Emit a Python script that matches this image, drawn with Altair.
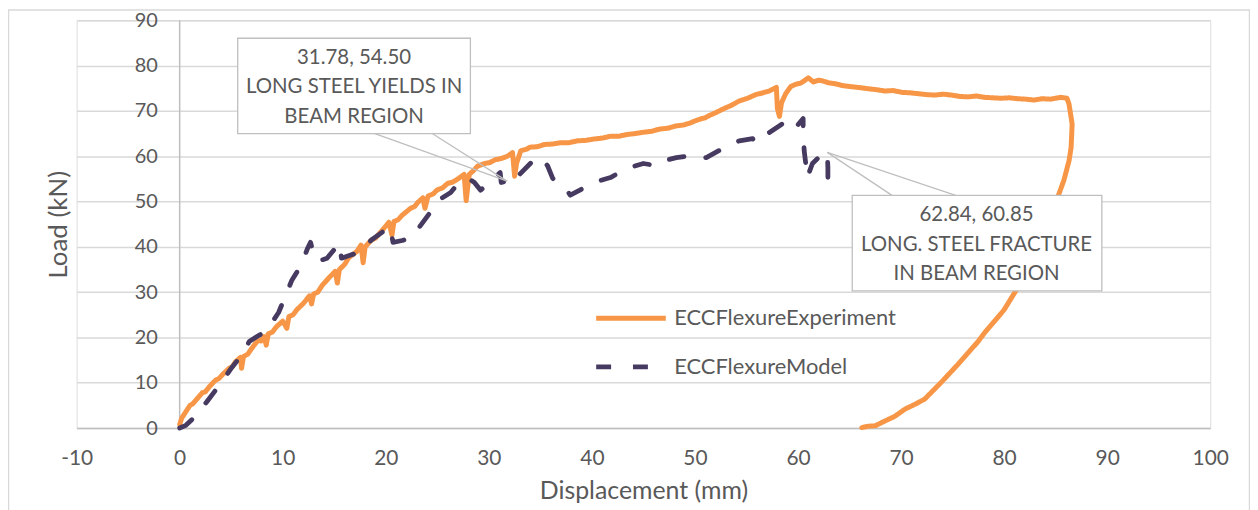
import altair as alt
import pandas as pd

# ---------------- data ----------------
series_names = ["ECCFlexureExperiment", "ECCFlexureModel"]

exp_x = [0.0, 0.2, 0.6, 1.0, 1.3, 1.6, 2.2, 2.5, 2.9, 3.5, 3.8, 4.2, 4.8, 5.1, 5.4, 5.9, 6.0, 6.2, 6.6, 7.0,
         7.6, 7.9, 8.2, 8.4, 8.6, 9.0, 9.4, 10.0, 10.4, 10.6, 11.0, 11.4, 12.0, 12.6, 12.8, 13.0, 13.4,
         13.8, 14.5, 15.1, 15.3, 15.5, 16.0, 16.4, 17.2, 17.6, 17.8, 18.0, 18.6, 19.0, 19.4, 20.3, 20.6,
         20.8, 21.2, 21.6, 22.4, 22.8, 23.1, 23.6, 23.8, 24.1, 24.6, 25.0, 25.5, 26.0, 26.5, 27.0, 27.6,
         27.8, 28.1, 28.5, 28.9, 29.6, 30.1, 30.6, 31.2, 31.8, 32.3, 32.5, 32.7, 33.1, 33.6, 34.0, 34.7,
         35.4, 36.2, 37.0, 37.8, 38.6, 39.4, 40.2, 41.0, 41.8, 42.6, 43.4, 44.2, 45.0, 45.8, 46.6, 47.4,
         48.2, 48.9, 49.5, 50.0, 50.5, 51.0, 51.4, 52.0, 52.7, 53.5, 54.3, 55.1, 55.9, 56.6, 57.2, 57.9,
         58.0, 58.2, 58.4, 58.8, 59.3, 59.8, 60.2, 60.5, 61.0, 61.5, 62.0, 62.4, 63.0, 63.6, 64.3, 65.0,
         65.8, 66.8, 67.6, 68.4, 69.2, 70.1, 70.9, 71.7, 72.5, 73.3, 74.1, 74.9, 75.7, 76.5, 77.3, 78.1,
         78.9, 79.7, 80.5, 81.3, 82.1, 82.9, 83.7, 84.5, 85.0, 85.5, 86.1, 86.3, 86.6, 86.5, 86.3, 85.8,
         85.1, 84.2, 82.9, 81.0, 80.0, 78.1, 77.4, 75.5, 73.9, 72.3, 71.4, 70.4, 69.4, 68.2, 67.5, 66.8, 66.2]
exp_y = [0.8, 2.2, 3.6, 5.0, 5.4, 6.2, 7.8, 8.0, 9.2, 10.6, 10.9, 11.9, 13.2, 13.5, 14.6, 15.6, 13.2, 15.8, 16.3, 17.6,
         19.4, 19.2, 20.2, 18.3, 20.8, 21.2, 22.4, 23.6, 22.0, 24.6, 25.0, 26.2, 27.5, 29.2, 27.4, 29.6, 30.0,
         31.4, 33.2, 34.6, 32.0, 35.0, 36.1, 37.6, 39.0, 40.4, 36.5, 40.0, 41.5, 41.9, 43.0, 45.4, 42.6,
         45.6, 46.0, 47.0, 48.5, 48.9, 49.8, 50.8, 48.5, 51.2, 51.7, 52.6, 53.0, 54.0, 54.3, 55.0, 56.0,
         50.2, 56.0, 56.8, 57.8, 58.4, 58.6, 59.2, 59.5, 60.0, 60.8, 55.6, 58.5, 61.2, 61.5, 62.0, 62.1,
         62.6, 62.7, 63.0, 63.0, 63.4, 63.5, 63.8, 64.0, 64.4, 64.4, 64.8, 65.0, 65.3, 65.5, 66.0, 66.2,
         66.7, 66.9, 67.3, 67.8, 68.2, 68.5, 69.0, 69.6, 70.4, 71.2, 72.2, 72.8, 73.6, 74.0, 74.4, 75.2,
         70.5, 68.8, 71.8, 73.8, 75.4, 75.9, 76.1, 76.5, 77.3, 76.4, 76.8, 76.6, 76.2, 76.0, 75.6, 75.4,
         75.2, 74.9, 74.7, 74.4, 74.5, 74.1, 74.0, 73.8, 73.6, 73.5, 73.7, 73.5, 73.2, 73.1, 73.3, 73.0,
         72.9, 72.8, 72.9, 72.7, 72.6, 72.4, 72.7, 72.6, 72.8, 73.0, 72.8, 71.5, 67.1, 61.9, 59.0, 54.7,
         50.3, 44.3, 37.1, 29.8, 26.1, 21.0, 18.9, 14.0, 10.1, 6.4, 5.3, 4.2, 2.6, 1.3, 0.5, 0.4, 0.1]

model_x = [0.0, 0.6, 1.25, 2.6, 3.9, 5.1, 6.2, 6.75, 7.5, 8.4, 9.6, 10.9, 11.8, 12.4, 12.7, 13.0, 13.4,
           14.3, 15.5, 15.7, 16.6, 17.4, 18.6, 20.0, 20.4, 20.7, 21.6, 22.5, 23.4, 24.6, 25.1, 26.3, 26.7,
           28.0, 28.6, 29.2, 31.1, 31.2, 31.78, 32.6, 32.9, 34.5, 35.0, 35.7, 36.2, 37.4, 37.9, 40.2, 41.8,
           43.4, 45.0, 46.3, 47.0, 48.2, 49.5, 51.1, 52.7, 54.3, 55.6, 55.8, 57.2, 58.5, 59.1, 59.5, 60.5,
           60.5, 60.6, 60.8, 60.9, 61.4, 62.0, 62.84, 62.9, 62.9]
model_y = [0.0, 0.6, 2.0, 5.7, 9.6, 13.5, 16.6, 19.1, 20.2, 21.4, 25.5, 32.7, 36.0, 39.6, 41.0, 38.4, 36.8,
           37.5, 40.8, 37.5, 38.2, 38.8, 41.5, 43.8, 44.5, 41.0, 41.4, 42.1, 44.8, 48.5, 50.3, 52.0, 53.1,
           55.1, 54.2, 52.5, 56.4, 54.2, 54.5, 56.4, 55.8, 59.5, 59.7, 57.9, 55.1, 53.1, 51.4, 54.2, 55.3,
           57.3, 58.4, 57.9, 59.0, 59.7, 60.1, 59.7, 61.7, 63.4, 63.9, 63.0, 65.2, 67.2, 66.1, 65.6, 68.3,
           65.6, 61.2, 57.5, 55.3, 58.4, 59.7, 60.85, 57.5, 53.1]

x_ticks = [-10, 0, 10, 20, 30, 40, 50, 60, 70, 80, 90, 100]
y_ticks = [0, 10, 20, 30, 40, 50, 60, 70, 80, 90]

callout_x = [31.78, 62.84]
callout_y = [54.50, 60.85]
callout_lines = [["31.78, 54.50", "LONG STEEL YIELDS IN", "BEAM REGION"],
                 ["62.84, 60.85", "LONG. STEEL FRACTURE", "IN BEAM REGION"]]

# ---------------- style ----------------
ORANGE = "#F79646"
PURPLE = "#463A60"
TEXT = "#595959"
GRID = "#D9D9D9"
AXIS = "#BFBFBF"
FONT = "Lato"
W, H = 1140, 410

df = pd.concat([
    pd.DataFrame({"x": exp_x, "y": exp_y, "series": series_names[0], "order": range(len(exp_x))}),
    pd.DataFrame({"x": model_x, "y": model_y, "series": series_names[1], "order": range(len(model_x))}),
], ignore_index=True)

xscale = alt.Scale(domain=[-10, 100], nice=False, zero=False)
yscale = alt.Scale(domain=[0, 90], nice=False, zero=False)

legend = alt.Legend(
    title=None, orient="none", legendX=520, legendY=262, padding=0,
    symbolType="stroke", symbolSize=4900, symbolStrokeWidth=4.5,
    labelFontSize=22, labelColor=TEXT, labelFont=FONT, labelOffset=6, labelLimit=0,
    rowPadding=-32.5,
)

x_axis = alt.Axis(values=x_ticks, grid=False, ticks=False, domain=True, domainColor=AXIS, domainWidth=1.5,
                  labelFontSize=21, labelColor=TEXT, labelFont=FONT, labelPadding=31, labelBaseline="middle",
                  labelFlush=False, labelOverlap=False, labelExpr="'' + datum.value",
                  title="Displacement (mm)", titleFontSize=25, titleColor=TEXT,
                  titleFont=FONT, titleFontWeight="normal", titleX=W / 2, titleY=71,
                  titleBaseline="alphabetic", titleAlign="center")
y_axis = alt.Axis(values=y_ticks, grid=True, gridColor=GRID, gridWidth=1.5, domain=False, ticks=False,
                  labels=False, title="Load (kN)", titleFontSize=26, titleColor=TEXT, titleFont=FONT,
                  titleFontWeight="normal", titleX=-10, titleY=H / 2, titleAngle=-90,
                  titleBaseline="alphabetic", titleAlign="center")

base = alt.Chart(pd.DataFrame({"a": [0]}))

border = base.mark_rect(fill=None, stroke=GRID, strokeWidth=1.5).encode(
    x=alt.value(-68.5), x2=alt.value(1179.5), y=alt.value(-10.5), y2=alt.value(500))

zero_rule = alt.Chart(pd.DataFrame({"x": [0]})).mark_rule(color=AXIS, strokeWidth=1.5).encode(
    x=alt.X("x:Q", scale=xscale, axis=x_axis), y=alt.value(0), y2=alt.value(H))

ylab = alt.Chart(pd.DataFrame({"y": y_ticks, "x": [0] * len(y_ticks)})).mark_text(
    align="right", baseline="middle", dx=-22, dy=0.5, fontSize=20, color=TEXT, font=FONT).encode(
    x=alt.X("x:Q", scale=xscale), y=alt.Y("y:Q", scale=yscale, axis=y_axis), text=alt.Text("y:Q"))

lines = alt.Chart(df).mark_line(strokeCap="round", strokeJoin="round").encode(
    x=alt.X("x:Q", scale=xscale),
    y=alt.Y("y:Q", scale=yscale),
    color=alt.Color("series:N", scale=alt.Scale(domain=series_names, range=[ORANGE, PURPLE]), legend=legend),
    strokeDash=alt.StrokeDash("series:N", scale=alt.Scale(domain=series_names, range=[[1, 0], [15, 22]]),
                              legend=legend),
    strokeWidth=alt.StrokeWidth("series:N", scale=alt.Scale(domain=series_names, range=[5, 4.8]), legend=None),
    order="order:Q",
)

layers = [border, zero_rule, ylab, lines]

# callouts: box (pixels in plot coords), leader bases, first text line centre
boxes = [dict(x=162, x2=396, y=18, y2=114, bases=[(300, 114), (358, 114)], cx=279, cy=38),
         dict(x=780, x2=1031, y=176, y2=272, bases=[(820, 176), (884, 176)], cx=905, cy=196)]

for i, b in enumerate(boxes):
    pt = pd.DataFrame({"x": [callout_x[i]], "y": [callout_y[i]], "label": ["\n".join(callout_lines[i])]})
    for bx, by in b["bases"]:
        layers.append(alt.Chart(pt).mark_rule(color=AXIS, strokeWidth=1.3).encode(
            x=alt.X("x:Q", scale=xscale), y=alt.Y("y:Q", scale=yscale),
            x2=alt.value(bx), y2=alt.value(by)))
    layers.append(base.mark_rect(fill="white", stroke=AXIS, strokeWidth=1.3).encode(
        x=alt.value(b["x"]), x2=alt.value(b["x2"]), y=alt.value(b["y"]), y2=alt.value(b["y2"])))
    layers.append(alt.Chart(pt).mark_text(lineBreak="\n", lineHeight=29.5, align="center", baseline="middle",
                                          fontSize=20.5, color=TEXT, font=FONT).encode(
        x=alt.value(b["cx"]), y=alt.value(b["cy"]), text="label:N"))

chart = alt.layer(*layers).properties(
    width=W, height=H,
    autosize=alt.AutoSizeParams(type="none"),
    padding={"left": 69, "top": 11, "right": 40, "bottom": 81},
).configure_view(stroke=None).configure(font=FONT)

chart.save("out.html", embed_options={"renderer": "svg", "actions": False})
